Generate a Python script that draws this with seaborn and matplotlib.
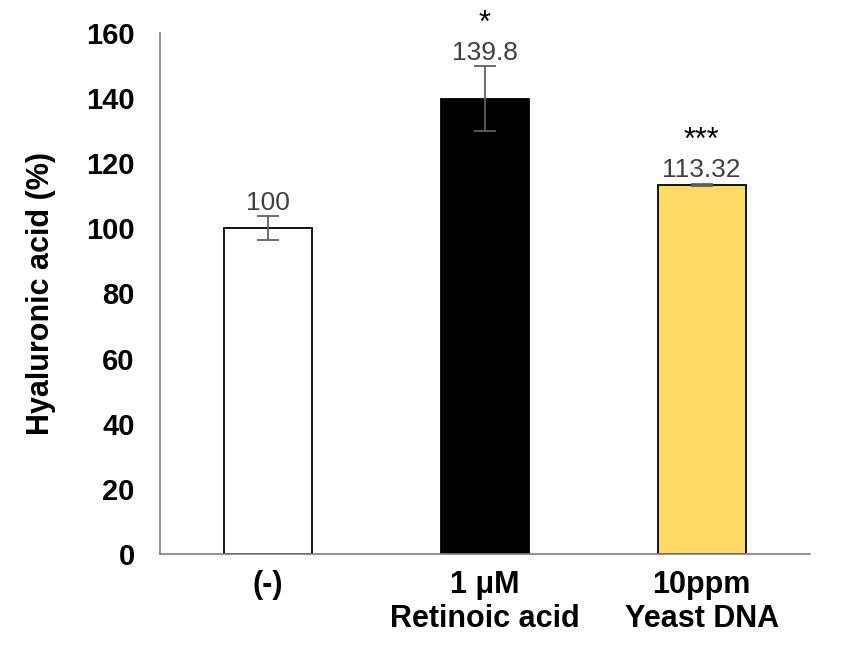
import matplotlib
matplotlib.use("Agg")
import matplotlib.pyplot as plt
import numpy as np
import pandas as pd
import seaborn as sns

# values
categories = ["(-)", "1 μM\nRetinoic acid", "10ppm\nYeast DNA"]
values = [100, 139.8, 113.32]
errors = [3.7, 10.0, 0.4]
value_labels = ["100", "139.8", "113.32"]
stars = ["", "*", "***"]
bar_colors = ["#ffffff", "#000000", "#ffd966"]
y_ticks = [0, 20, 40, 60, 80, 100, 120, 140, 160]

sns.set_style("white")
plt.rcParams["font.family"] = ["Liberation Sans", "DejaVu Sans"]
plt.rcParams["text.color"] = "black"

df = pd.DataFrame({"group": categories, "value": values})

fig = plt.figure(figsize=(8.5, 6.64), dpi=100)
ax = fig.add_axes([0.188, 0.166, 0.765, 0.784])

sns.barplot(
    data=df,
    x="group",
    y="value",
    hue="group",
    palette=bar_colors,
    order=categories,
    hue_order=categories,
    saturation=1,
    edgecolor="black",
    linewidth=1.3,
    width=0.405,
    legend=False,
    ax=ax,
)

xpos = np.arange(len(categories))
ax.errorbar(
    xpos,
    values,
    yerr=errors,
    fmt="none",
    ecolor="#606060",
    elinewidth=1.3,
    capsize=8,
    capthick=1.3,
    zorder=5,
)

for i in range(len(categories)):
    top = values[i] + errors[i]
    ax.annotate(
        value_labels[i],
        xy=(xpos[i], top),
        xytext=(0, 1),
        textcoords="offset points",
        ha="center",
        va="bottom",
        fontsize=19,
        color="#404040",
    )
    if stars[i]:
        ax.annotate(
            stars[i],
            xy=(xpos[i], top),
            xytext=(0, 20),
            textcoords="offset points",
            ha="center",
            va="bottom",
            fontsize=22,
            color="black",
        )

ax.set_ylim(0, 160)
ax.set_xlim(-0.5, 2.5)
ax.set_yticks(y_ticks)
ax.set_yticklabels([str(t) for t in y_ticks], fontsize=21, fontweight="bold", color="black")
ax.set_xticks(xpos)
ax.set_xticklabels(categories, fontsize=22, fontweight="bold", color="black", linespacing=1.15)
ax.tick_params(axis="y", length=0, pad=18)
ax.tick_params(axis="x", length=0, pad=12)
ax.set_xlabel("")
ax.set_ylabel("Hyaluronic acid (%)", fontsize=22, fontweight="bold", color="black", labelpad=22)

for side in ["top", "right"]:
    ax.spines[side].set_visible(False)
for side in ["left", "bottom"]:
    ax.spines[side].set_color("#808080")
    ax.spines[side].set_linewidth(1.2)

fig.savefig("out.png", dpi=100)
